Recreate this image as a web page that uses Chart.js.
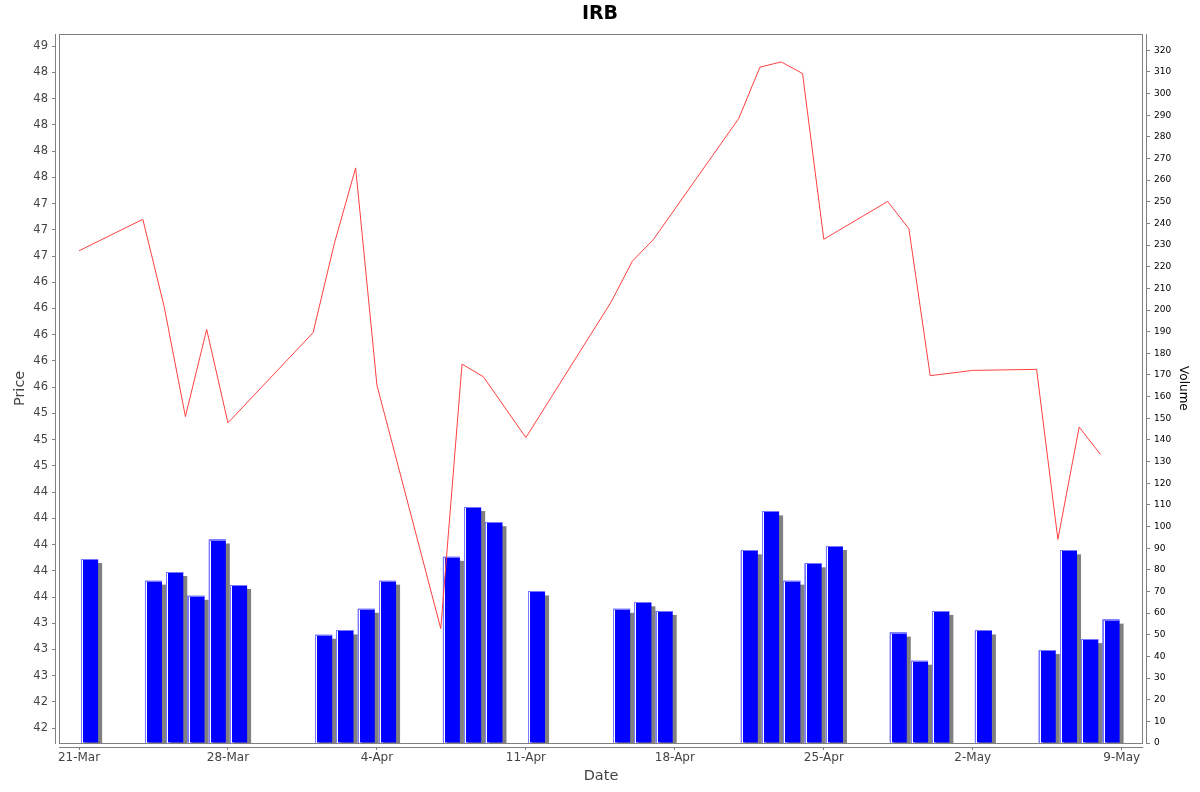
<!DOCTYPE html>
<html>
<head>
<meta charset="utf-8">
<title>IRB</title>
<script src="https://cdn.jsdelivr.net/npm/chart.js@4.4.0/dist/chart.umd.min.js"></script>
<style>
  html, body { margin: 0; padding: 0; background: #fff; }
  #wrap { width: 1200px; height: 792px; }
</style>
</head>
<body>
<div id="wrap"><canvas id="irbChart"></canvas></div>
<script>
// trading days, closing price and volume (thousands)
const tradeDates = ['2014-03-21', '2014-03-24', '2014-03-25', '2014-03-26', '2014-03-27', '2014-03-28',
  '2014-04-01', '2014-04-02', '2014-04-03', '2014-04-04', '2014-04-07', '2014-04-08', '2014-04-09',
  '2014-04-11', '2014-04-15', '2014-04-16', '2014-04-17', '2014-04-21', '2014-04-22', '2014-04-23',
  '2014-04-24', '2014-04-25', '2014-04-28', '2014-04-29', '2014-04-30', '2014-05-02', '2014-05-05',
  '2014-05-06', '2014-05-07', '2014-05-08'];
const closePrices = [46.80, 47.10, 46.27, 45.22, 46.05, 45.16, 46.02, 46.87, 47.59, 45.52, 43.20, 45.72,
  45.60, 45.02, 46.31, 46.70, 46.91, 48.06, 48.55, 48.60, 48.49, 46.91, 47.27, 47.01, 45.61, 45.66,
  45.67, 44.05, 45.12, 44.86];
const volumes = [85, 75, 79, 68, 94, 73, 50, 52, 62, 75, 86, 109, 102, 70, 62, 65, 61, 89, 107, 75, 83,
  91, 51, 38, 61, 52, 43, 89, 48, 57];

// axis ticks
const dateTicks = ['2014-03-21', '2014-03-28', '2014-04-04', '2014-04-11', '2014-04-18', '2014-04-25',
  '2014-05-02', '2014-05-09'];
const priceTicks = [42.25, 42.5, 42.75, 43, 43.25, 43.5, 43.75, 44, 44.25, 44.5, 44.75, 45, 45.25, 45.5,
  45.75, 46, 46.25, 46.5, 46.75, 47, 47.25, 47.5, 47.75, 48, 48.25, 48.5, 48.75];
const priceTickLabels = ['42', '42', '43', '43', '43', '44', '44', '44', '44', '44', '45', '45', '45', '46',
  '46', '46', '46', '46', '47', '47', '47', '48', '48', '48', '48', '48', '49'];
const volumeTicks = [0, 10, 20, 30, 40, 50, 60, 70, 80, 90, 100, 110, 120, 130, 140, 150, 160, 170, 180,
  190, 200, 210, 220, 230, 240, 250, 260, 270, 280, 290, 300, 310, 320];
const months = ['Jan', 'Feb', 'Mar', 'Apr', 'May', 'Jun', 'Jul', 'Aug', 'Sep', 'Oct', 'Nov', 'Dec'];

const DAY = 86400000;
const toDay = s => Date.parse(s + 'T00:00:00Z') / DAY;
const fmtDay = v => {
  const d = new Date(Math.round(v) * DAY);
  return d.getUTCDate() + '-' + months[d.getUTCMonth()];
};

const xMin = toDay(dateTicks[0]) - 0.94;
const xMax = toDay(dateTicks[dateTicks.length - 1]) + 1;
const gray = '#808080';
const font = 'DejaVu Sans';
const tickGrid = {
  display: true, offset: false, drawOnChartArea: false, drawTicks: true,
  tickLength: 7, color: gray, lineWidth: 1
};

// gray drop shadow under the bars, light edge + white stripe on top of them
const barDecor = {
  id: 'barDecor',
  beforeDatasetDraw(chart, args) {
    if (args.meta.type !== 'bar') return;
    const { ctx, chartArea: a } = chart;
    ctx.save();
    ctx.beginPath();
    ctx.rect(a.left, a.top, a.right - a.left, a.bottom - a.top);
    ctx.clip();
    ctx.fillStyle = gray;
    args.meta.data.forEach(bar => {
      const left = bar.x - bar.width / 2;
      ctx.fillRect(left + 4, bar.y + 4, bar.width, bar.base - bar.y);
    });
    ctx.restore();
  },
  afterDatasetDraw(chart, args) {
    if (args.meta.type !== 'bar') return;
    const ctx = chart.ctx;
    ctx.save();
    args.meta.data.forEach(bar => {
      const left = Math.round(bar.x - bar.width / 2);
      const right = Math.round(bar.x + bar.width / 2);
      const top = Math.round(bar.y);
      const base = Math.round(bar.base);
      ctx.fillStyle = '#7878ff';
      ctx.fillRect(left, top, right - left, 1);
      ctx.fillRect(left, top, 1, base - top);
      ctx.fillStyle = '#ffffff';
      ctx.fillRect(left + 1, top + 1, 1, base - top - 1);
    });
    ctx.restore();
  }
};

// plot outline plus axis lines set 4px away from it
const frame = {
  id: 'frame',
  afterDraw(chart) {
    const { ctx, chartArea: a } = chart;
    const l = Math.round(a.left), r = Math.round(a.right), t = Math.round(a.top), b = Math.round(a.bottom);
    ctx.save();
    ctx.fillStyle = '#ffffff';
    ctx.fillRect(l - 3, t, 3, b - t + 1);
    ctx.fillRect(r, t, 3, b - t + 1);
    ctx.fillRect(l, b + 1, r - l, 3);
    ctx.strokeStyle = gray;
    ctx.lineWidth = 1;
    ctx.strokeRect(l + 0.5, t + 0.5, r - l - 1, b - t);
    ctx.beginPath();
    ctx.moveTo(l - 3.5, t); ctx.lineTo(l - 3.5, b + 1);
    ctx.moveTo(r + 3.5, t); ctx.lineTo(r + 3.5, b + 1);
    ctx.moveTo(l, b + 4.5); ctx.lineTo(r, b + 4.5);
    ctx.stroke();
    ctx.restore();
  }
};

new Chart(document.getElementById('irbChart').getContext('2d'), {
  type: 'bar',
  data: {
    datasets: [
      {
        type: 'line',
        label: 'Price',
        data: tradeDates.map((d, i) => ({ x: toDay(d), y: closePrices[i] })),
        xAxisID: 'x',
        yAxisID: 'y',
        borderColor: '#ff4040',
        borderWidth: 1,
        pointRadius: 0,
        tension: 0,
        fill: false,
        order: 0
      },
      {
        type: 'bar',
        label: 'Volume',
        data: tradeDates.map((d, i) => ({ x: toDay(d), y: volumes[i] })),
        xAxisID: 'xb',
        yAxisID: 'yv',
        backgroundColor: '#0000ff',
        borderWidth: 0,
        grouped: false,
        barPercentage: 1,
        categoryPercentage: 0.8,
        order: 1
      }
    ]
  },
  options: {
    responsive: true,
    maintainAspectRatio: false,
    animation: false,
    devicePixelRatio: 1,
    layout: { padding: 0 },
    plugins: {
      legend: { display: false },
      tooltip: { enabled: false },
      title: {
        display: true,
        text: 'IRB',
        color: '#000',
        font: { family: font, size: 19, weight: 'bold', lineHeight: 1.2 },
        padding: { top: 3, bottom: 8 }
      }
    },
    scales: {
      x: {
        type: 'linear',
        position: 'bottom',
        min: xMin,
        max: xMax,
        offset: false,
        grid: tickGrid,
        border: { display: false },
        afterBuildTicks: s => { s.ticks = dateTicks.map(d => ({ value: toDay(d) })); },
        afterFit: s => { s.height = 49; },
        ticks: {
          autoSkip: false, maxRotation: 0, padding: 1, color: '#444',
          font: { family: font, size: 12 },
          callback: v => fmtDay(v)
        },
        title: {
          display: true, text: 'Date', color: '#444',
          font: { family: font, size: 14.5 },
          padding: { top: 0, bottom: 7 }
        }
      },
      // hidden twin of the date axis, half a day behind, so each volume bar fills its own day
      xb: {
        type: 'linear',
        display: false,
        min: xMin - 0.5,
        max: xMax - 0.5,
        offset: false,
        grid: { offset: false },
        afterBuildTicks: s => { s.ticks = dateTicks.map(d => ({ value: toDay(d) })); }
      },
      y: {
        type: 'linear',
        position: 'left',
        min: 42.109,
        max: 48.868,
        grid: tickGrid,
        border: { display: false },
        afterBuildTicks: s => { s.ticks = priceTicks.map(v => ({ value: v })); },
        afterFit: s => { s.width = 59; },
        ticks: {
          autoSkip: false, padding: 4, color: '#444',
          font: { family: font, size: 11.5 },
          callback: (v, i) => priceTickLabels[i]
        },
        title: {
          display: true, text: 'Price', color: '#444',
          font: { family: font, size: 14.5 },
          padding: { top: 12, bottom: 0 }
        }
      },
      yv: {
        type: 'linear',
        position: 'right',
        min: 0,
        max: 327.6,
        grid: tickGrid,
        border: { display: false },
        afterBuildTicks: s => { s.ticks = volumeTicks.map(v => ({ value: v })); },
        afterFit: s => { s.width = 57; },
        ticks: {
          autoSkip: false, padding: 4, color: '#000',
          font: { family: font, size: 9 }
        },
        title: {
          display: true, text: 'Volume', color: '#000',
          font: { family: font, size: 12 },
          padding: { top: 10, bottom: 0 }
        }
      }
    }
  },
  plugins: [barDecor, frame]
});
</script>
</body>
</html>
